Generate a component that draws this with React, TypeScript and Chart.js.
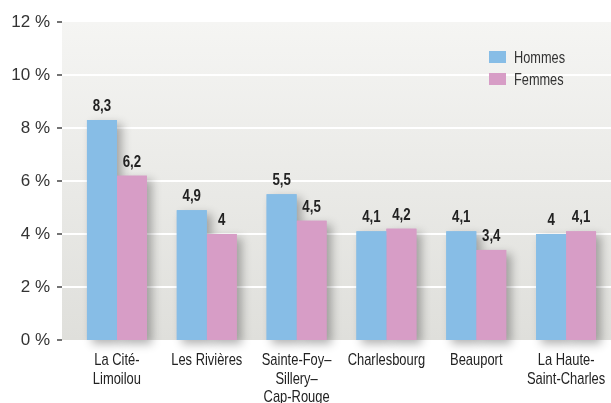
import React, { useEffect, useRef } from "react";
import { Chart, registerables } from "chart.js";

Chart.register(...registerables);

const categories: string[][] = [
  ["La Cité-", "Limoilou"],
  ["Les Rivières"],
  ["Sainte-Foy–", "Sillery–", "Cap-Rouge"],
  ["Charlesbourg"],
  ["Beauport"],
  ["La Haute-", "Saint-Charles"],
];
const seriesNames = ["Hommes", "Femmes"];
const hommes = [8.3, 4.9, 5.5, 4.1, 4.1, 4];
const femmes = [6.2, 4, 4.5, 4.2, 3.4, 4.1];
const yTicks = [0, 2, 4, 6, 8, 10, 12];

const BLUE = "#87bde6";
const PINK = "#d79dc6";
const SANS = "'Liberation Sans', Arial, sans-serif";
const fmt = (v: number) => String(v).replace(".", ",");

function narrowText(ctx: any, text: string, x: number, y: number, sx: number) {
  ctx.save();
  ctx.translate(x, y);
  ctx.scale(sx, 1);
  ctx.fillText(text, 0, 0);
  ctx.restore();
}

const bgPlugin = {
  id: "bgPlugin",
  beforeDraw(chart: any) {
    const { ctx, chartArea } = chart;
    const y = chart.scales.y;
    const left = chartArea.left - 10;
    const right = chartArea.right;
    ctx.save();
    const g = ctx.createLinearGradient(0, chartArea.top, 0, chartArea.bottom);
    g.addColorStop(0, "#f5f5f3");
    g.addColorStop(1, "#dfdfdb");
    ctx.fillStyle = g;
    ctx.fillRect(left, chartArea.top, right - left, chartArea.bottom - chartArea.top);
    yTicks.forEach((t) => {
      const py = Math.round(y.getPixelForValue(t));
      if (t !== 0 && t !== 12) {
        ctx.strokeStyle = "#ffffff";
        ctx.lineWidth = 2;
        ctx.beginPath();
        ctx.moveTo(left, py);
        ctx.lineTo(right, py);
        ctx.stroke();
      }
      ctx.strokeStyle = "#444444";
      ctx.lineWidth = 1.5;
      ctx.beginPath();
      ctx.moveTo(left - 5, py);
      ctx.lineTo(left, py);
      ctx.stroke();
    });
    ctx.restore();
  },
  beforeDatasetsDraw(chart: any) {
    const ctx = chart.ctx;
    ctx.save();
    ctx.shadowColor = "rgba(0,0,0,0.30)";
    ctx.shadowBlur = 10;
    ctx.shadowOffsetX = 5;
    ctx.shadowOffsetY = 4;
    chart.data.datasets.forEach((ds: any, i: number) => {
      const meta = chart.getDatasetMeta(i);
      ctx.fillStyle = ds.backgroundColor;
      meta.data.forEach((el: any) => {
        ctx.fillRect(el.x - el.width / 2, el.y, el.width, el.base - el.y);
      });
    });
    ctx.restore();
  },
  afterDraw(chart: any) {
    const ctx = chart.ctx;
    const xs = chart.scales.x;
    const area = chart.chartArea;
    ctx.save();
    // data labels
    ctx.fillStyle = "#222222";
    ctx.font = `bold 17px ${SANS}`;
    ctx.textAlign = "center";
    ctx.textBaseline = "alphabetic";
    chart.data.datasets.forEach((ds: any, i: number) => {
      const meta = chart.getDatasetMeta(i);
      meta.data.forEach((el: any, j: number) => {
        narrowText(ctx, fmt(ds.data[j]), el.x, el.y - 9, 0.78);
      });
    });
    // x labels
    ctx.font = `17px ${SANS}`;
    ctx.fillStyle = "#222222";
    categories.forEach((lines, i) => {
      const cx = xs.getPixelForValue(i);
      lines.forEach((ln, k) => {
        narrowText(ctx, ln, cx, area.bottom + 25 + k * 18.7, 0.76);
      });
    });
    // legend
    const lx = 489;
    const ly = [51, 73];
    ctx.textAlign = "left";
    chart.data.datasets.forEach((ds: any, i: number) => {
      ctx.fillStyle = ds.backgroundColor;
      ctx.fillRect(lx, ly[i], 17, 12);
      ctx.fillStyle = "#333333";
      narrowText(ctx, ds.label, lx + 25, ly[i] + 12, 0.75);
    });
    ctx.restore();
  },
};

export default function App() {
  const ref = useRef<HTMLCanvasElement | null>(null);
  useEffect(() => {
    if (!ref.current) return;
    const chart = new Chart(ref.current, {
      type: "bar",
      data: {
        labels: categories.map((c) => c.join(" ")),
        datasets: [
          { label: seriesNames[0], data: hommes, backgroundColor: BLUE },
          { label: seriesNames[1], data: femmes, backgroundColor: PINK },
        ],
      },
      options: {
        responsive: false,
        maintainAspectRatio: false,
        animation: false,
        devicePixelRatio: 1,
        layout: { padding: { top: 22, right: 0, bottom: 0, left: 0 } },
        datasets: { bar: { categoryPercentage: 0.667, barPercentage: 1, borderWidth: 0 } },
        plugins: { legend: { display: false }, tooltip: { enabled: false } },
        scales: {
          x: {
            grid: { display: false, drawTicks: false },
            border: { display: false },
            ticks: { display: false },
            afterFit: (s: any) => {
              s.height = 63;
              s.paddingLeft = 0;
              s.paddingRight = 0;
            },
          },
          y: {
            min: 0,
            max: 12,
            grid: { display: false, drawTicks: false },
            border: { display: false },
            ticks: {
              stepSize: 2,
              color: "#333333",
              font: { family: SANS, size: 17 },
              padding: 22,
              callback: (v: any) => `${v} %`,
            },
            afterFit: (s: any) => {
              s.width = 72;
              s.paddingTop = 0;
              s.paddingBottom = 0;
            },
          },
        },
      },
      plugins: [bgPlugin],
    });
    return () => chart.destroy();
  }, []);
  return (
    <div style={{ position: "absolute", left: 0, top: 0, width: 611, height: 403 }}>
      <canvas ref={ref} width={611} height={403} style={{ display: "block" }} />
    </div>
  );
}
